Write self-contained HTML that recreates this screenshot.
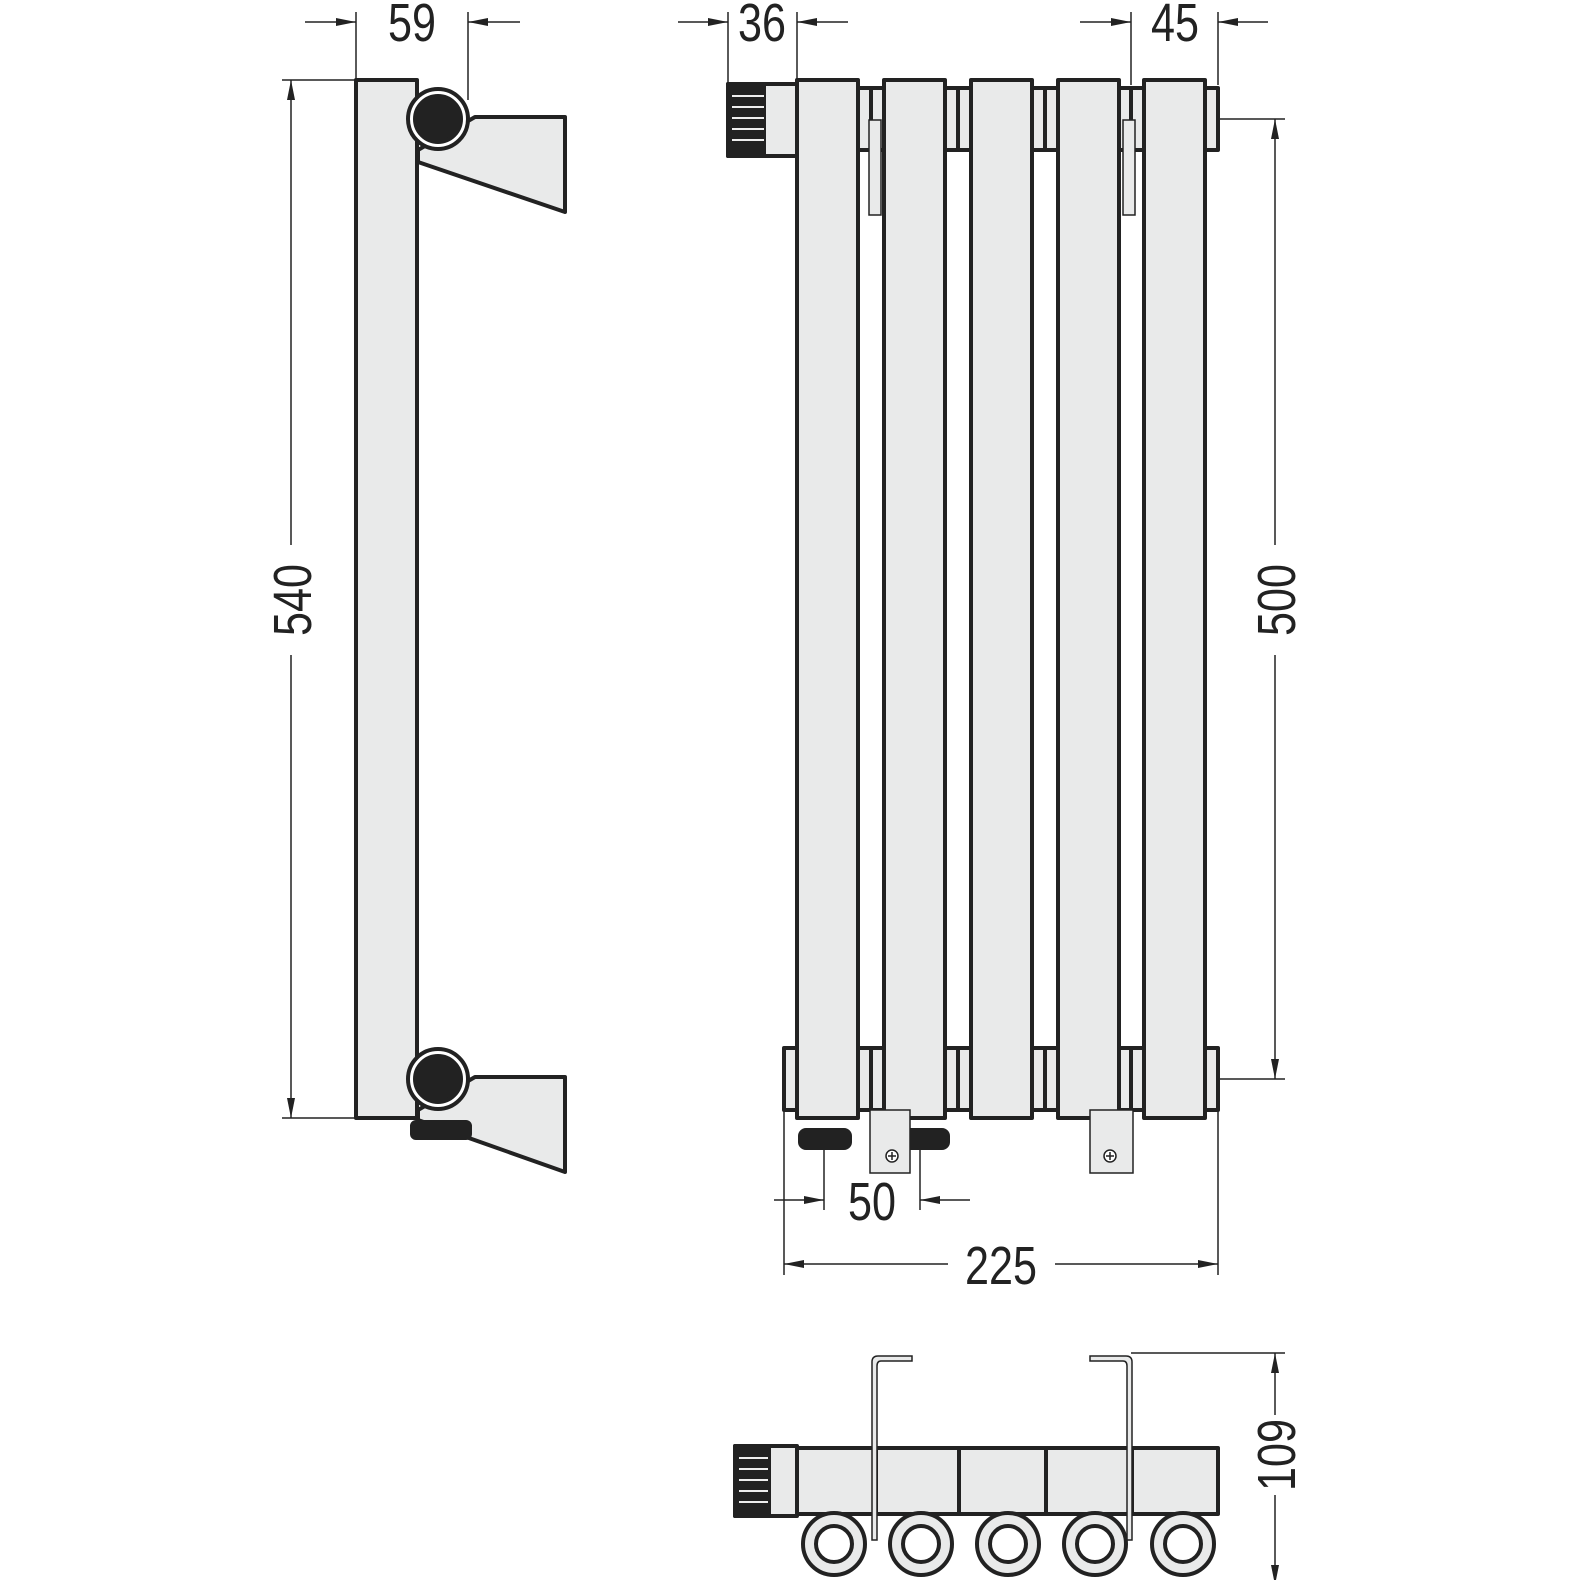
<!DOCTYPE html>
<html><head><meta charset="utf-8"><style>html,body{margin:0;padding:0;background:#fff}svg{display:block}</style></head>
<body>
<svg width="1580" height="1580" viewBox="0 0 1580 1580" xmlns="http://www.w3.org/2000/svg" font-family="Liberation Sans, sans-serif">
<defs>
<marker id="a" viewBox="0 0 20 10" refX="20" refY="5" markerWidth="20" markerHeight="10" markerUnits="userSpaceOnUse" orient="auto"><path d="M0,1 L20,5 L0,9 z" fill="#222"/></marker>
</defs>
<g stroke="#222" stroke-width="1.5" fill="none">
<line x1="356" y1="12" x2="356" y2="80"/><line x1="468" y1="12" x2="468" y2="100"/>
<line x1="305" y1="22" x2="356" y2="22" marker-end="url(#a)"/><line x1="520" y1="22" x2="468" y2="22" marker-end="url(#a)"/>
<line x1="282" y1="80" x2="356" y2="80"/><line x1="282" y1="1118" x2="356" y2="1118"/>
<line x1="291" y1="545" x2="291" y2="80" marker-end="url(#a)"/><line x1="291" y1="655" x2="291" y2="1118" marker-end="url(#a)"/>
<line x1="728" y1="12" x2="728" y2="84"/><line x1="797" y1="12" x2="797" y2="80"/>
<line x1="678" y1="22" x2="728" y2="22" marker-end="url(#a)"/><line x1="848" y1="22" x2="797" y2="22" marker-end="url(#a)"/>
<line x1="1131" y1="12" x2="1131" y2="85"/><line x1="1218" y1="12" x2="1218" y2="85"/>
<line x1="1080" y1="22" x2="1131" y2="22" marker-end="url(#a)"/><line x1="1268" y1="22" x2="1218" y2="22" marker-end="url(#a)"/>
<line x1="1218" y1="119" x2="1285" y2="119"/><line x1="1218" y1="1079" x2="1285" y2="1079"/>
<line x1="1275" y1="545" x2="1275" y2="119" marker-end="url(#a)"/><line x1="1275" y1="655" x2="1275" y2="1079" marker-end="url(#a)"/>
<line x1="824" y1="1138" x2="824" y2="1210"/><line x1="920" y1="1138" x2="920" y2="1210"/>
<line x1="774" y1="1200" x2="824" y2="1200" marker-end="url(#a)"/><line x1="970" y1="1200" x2="920" y2="1200" marker-end="url(#a)"/>
<line x1="784" y1="1110" x2="784" y2="1275"/><line x1="1218" y1="1110" x2="1218" y2="1275"/>
<line x1="948" y1="1264" x2="784" y2="1264" marker-end="url(#a)"/><line x1="1055" y1="1264" x2="1218" y2="1264" marker-end="url(#a)"/>
<line x1="1131" y1="1353" x2="1285" y2="1353"/><line x1="1218" y1="1585" x2="1285" y2="1585"/>
<line x1="1275" y1="1415" x2="1275" y2="1353" marker-end="url(#a)"/><line x1="1275" y1="1495" x2="1275" y2="1585" marker-end="url(#a)"/>
</g>
<g fill="#222" font-size="54">
<text x="412" y="41" text-anchor="middle" textLength="48" lengthAdjust="spacingAndGlyphs">59</text>
<text x="762" y="41" text-anchor="middle" textLength="48" lengthAdjust="spacingAndGlyphs">36</text>
<text x="1175" y="41" text-anchor="middle" textLength="48" lengthAdjust="spacingAndGlyphs">45</text>
<text x="872" y="1220" text-anchor="middle" textLength="48" lengthAdjust="spacingAndGlyphs">50</text>
<text x="1001" y="1284" text-anchor="middle" textLength="72" lengthAdjust="spacingAndGlyphs">225</text>
<text transform="translate(311,600) rotate(-90)" text-anchor="middle" textLength="72" lengthAdjust="spacingAndGlyphs">540</text>
<text transform="translate(1295,600) rotate(-90)" text-anchor="middle" textLength="72" lengthAdjust="spacingAndGlyphs">500</text>
<text transform="translate(1295,1455) rotate(-90)" text-anchor="middle" textLength="72" lengthAdjust="spacingAndGlyphs">109</text>
</g>
<g stroke="#222" stroke-width="4" fill="#e9eaea" stroke-linejoin="round">
<path d="M475,117 L565,117 L565,212 L418,162 L418,150 Z"/>
<path d="M475,1077 L565,1077 L565,1172 L418,1120 L418,1110 Z"/>
<rect x="356" y="80" width="61" height="1038"/>
<rect x="412" y="1122" width="58" height="16" fill="#222" rx="4"/>
<circle cx="438" cy="119" r="30" fill="#fff"/><circle cx="438" cy="119" r="23" fill="#222"/>
<circle cx="438" cy="1079" r="30" fill="#fff"/><circle cx="438" cy="1079" r="23" fill="#222"/>
<rect x="858" y="88" width="360" height="62"/>
<rect x="784" y="1048" width="434" height="62"/>
<line x1="871" y1="88" x2="871" y2="150"/><line x1="958" y1="88" x2="958" y2="150"/><line x1="1045" y1="88" x2="1045" y2="150"/><line x1="1131" y1="88" x2="1131" y2="150"/>
<line x1="871" y1="1048" x2="871" y2="1110"/><line x1="958" y1="1048" x2="958" y2="1110"/><line x1="1045" y1="1048" x2="1045" y2="1110"/><line x1="1131" y1="1048" x2="1131" y2="1110"/>
<rect x="728" y="84" width="69" height="72"/>
<rect x="728" y="84" width="36" height="72" fill="#222"/>
<rect x="797" y="80" width="61" height="1038"/>
<rect x="884" y="80" width="61" height="1038"/>
<rect x="971" y="80" width="61" height="1038"/>
<rect x="1058" y="80" width="61" height="1038"/>
<rect x="1144" y="80" width="61" height="1038"/>
<rect x="800" y="1130" width="50" height="18" rx="6" fill="#222"/>
<rect x="894" y="1130" width="54" height="18" rx="6" fill="#222"/>
<rect x="797" y="1448" width="421" height="66"/>
<line x1="876" y1="1448" x2="876" y2="1514"/><line x1="959" y1="1448" x2="959" y2="1514"/><line x1="1046" y1="1448" x2="1046" y2="1514"/><line x1="1132" y1="1448" x2="1132" y2="1514"/>
<rect x="735" y="1446" width="62" height="70"/>
<rect x="735" y="1446" width="34" height="70" fill="#222"/>
<g stroke-width="4"><circle cx="834" cy="1544" r="31"/><circle cx="921" cy="1544" r="31"/><circle cx="1008" cy="1544" r="31"/><circle cx="1095" cy="1544" r="31"/><circle cx="1183" cy="1544" r="31"/></g>
<g fill="#fff"><circle cx="834" cy="1544" r="18"/><circle cx="921" cy="1544" r="18"/><circle cx="1008" cy="1544" r="18"/><circle cx="1095" cy="1544" r="18"/><circle cx="1183" cy="1544" r="18"/></g>
</g>
<g stroke="#eee" stroke-width="2">
<line x1="732" y1="96" x2="764" y2="96"/><line x1="732" y1="107" x2="764" y2="107"/><line x1="732" y1="118" x2="764" y2="118"/><line x1="732" y1="129" x2="764" y2="129"/><line x1="732" y1="140" x2="764" y2="140"/>
<line x1="739" y1="1458" x2="768" y2="1458"/><line x1="739" y1="1469" x2="768" y2="1469"/><line x1="739" y1="1480" x2="768" y2="1480"/><line x1="739" y1="1491" x2="768" y2="1491"/><line x1="739" y1="1502" x2="768" y2="1502"/>
</g>
<g stroke="#222" stroke-width="1.5" fill="#e9eaea">
<rect x="869" y="120" width="12" height="95"/>
<rect x="1123" y="120" width="12" height="95"/>
<rect x="870" y="1110" width="40" height="63"/>
<rect x="1090" y="1110" width="43" height="63"/>
<circle cx="892" cy="1156" r="6" fill="#fff"/><path d="M888,1156h8M892,1152v8"/>
<circle cx="1110" cy="1156" r="6" fill="#fff"/><path d="M1106,1156h8M1110,1152v8"/>
<path d="M872,1540 V1362 Q872,1356 878,1356 H912 V1361 H881 Q877,1361 877,1366 V1540 Z"/>
<path d="M1132,1540 V1362 Q1132,1356 1126,1356 H1090 V1361 H1123 Q1127,1361 1127,1366 V1540 Z"/>
</g>
</svg>
</body></html>
